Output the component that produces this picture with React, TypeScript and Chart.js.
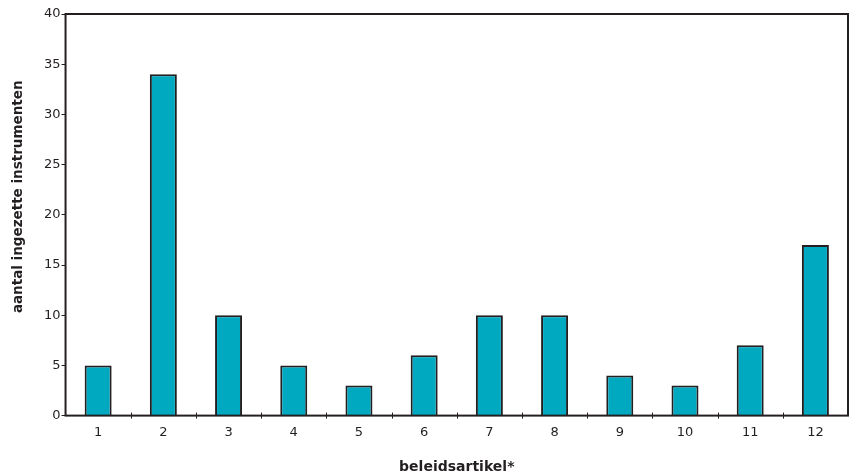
import React, { useEffect, useRef } from "react";
import { Chart, registerables } from "chart.js";

Chart.register(...registerables);

const categories = ["1", "2", "3", "4", "5", "6", "7", "8", "9", "10", "11", "12"];
const values = [5, 34, 10, 5, 3, 6, 10, 10, 4, 3, 7, 17];
const yTitle = "aantal ingezette instrumenten";
const xTitle = "beleidsartikel*";

const INK = "#231f20";

const frame = {
  id: "frame",
  afterDraw(chart: any) {
    const { ctx, chartArea } = chart;
    const xs = chart.scales.x;
    ctx.save();
    ctx.strokeStyle = INK;
    ctx.lineWidth = 2;
    ctx.strokeRect(chartArea.left, chartArea.top, chartArea.right - chartArea.left, chartArea.bottom - chartArea.top);
    // x tick marks crossing the axis at category boundaries
    ctx.lineWidth = 1;
    const n = categories.length;
    const step = n > 1 ? xs.getPixelForTick(1) - xs.getPixelForTick(0) : 0;
    for (let i = 1; i < n; i++) {
      const x = Math.round(xs.getPixelForTick(i) - step / 2) + 0.5;
      ctx.beginPath();
      ctx.moveTo(x, chartArea.bottom - 3);
      ctx.lineTo(x, chartArea.bottom + 3);
      ctx.stroke();
    }
    // y title
    ctx.fillStyle = INK;
    ctx.font = "bold 13.5px 'DejaVu Sans'";
    ctx.textAlign = "center";
    ctx.textBaseline = "middle";
    ctx.translate(18, (chartArea.top + chartArea.bottom) / 2 - 18);
    ctx.rotate(-Math.PI / 2);
    ctx.fillText(yTitle, 0, 0);
    ctx.restore();
  },
};

export default function App() {
  const ref = useRef<HTMLCanvasElement>(null);
  useEffect(() => {
    document.body.style.margin = "0";
    const chart = new Chart(ref.current!, {
      type: "bar",
      data: {
        labels: categories,
        datasets: [
          {
            data: values,
            backgroundColor: "#00a8c0",
            borderColor: INK,
            borderWidth: 2,
            barPercentage: 0.414,
            categoryPercentage: 1,
          },
        ],
      },
      options: {
        animation: false,
        responsive: false,
        maintainAspectRatio: false,
        layout: { padding: { top: 14, right: 8, left: 43, bottom: 0 } },
        plugins: { legend: { display: false }, tooltip: { enabled: false } },
        scales: {
          x: {
            offset: true,
            grid: { display: false },
            border: { display: false },
            ticks: { color: INK, font: { family: "DejaVu Sans", size: 13 }, padding: 1 },
            title: { display: true, text: xTitle, color: INK, font: { family: "DejaVu Sans", size: 14, weight: "bold" }, padding: { top: 18, bottom: 0 } },
          },
          y: {
            min: 0,
            max: 40,
            ticks: { stepSize: 5, color: INK, font: { family: "DejaVu Sans", size: 13 }, padding: 1 },
            grid: { display: true, drawOnChartArea: false, drawTicks: true, tickLength: 4, color: INK, lineWidth: 1 },
            border: { display: false },
          },
        },
      },
      plugins: [frame],
    });
    return () => chart.destroy();
  }, []);
  return <canvas ref={ref} width={856} height={476} style={{ display: "block" }} />;
}
